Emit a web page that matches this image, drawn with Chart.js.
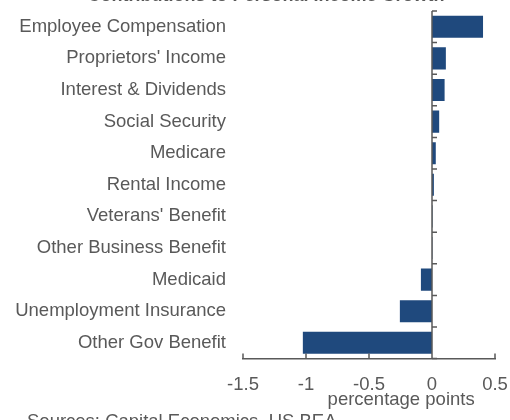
<!DOCTYPE html>
<html>
<head>
<meta charset="utf-8">
<script src="https://cdn.jsdelivr.net/npm/chart.js@4"></script>
<style>
  html, body { margin: 0; padding: 0; background: #fff; }
  #wrap { position: relative; width: 510px; height: 420px; }
</style>
</head>
<body>
<div id="wrap"><canvas id="income-chart" width="510" height="420"></canvas></div>
<script>
// Contributions by income component, percentage points
const categories = [
    'Employee Compensation',
    "Proprietors' Income",
    'Interest & Dividends',
    'Social Security',
    'Medicare',
    'Rental Income',
    "Veterans' Benefit",
    'Other Business Benefit',
    'Medicaid',
    'Unemployment Insurance',
    'Other Gov Benefit'
];
const contributions = [0.405, 0.11, 0.10, 0.057, 0.03, 0.015, 0.004, 0.003, -0.088, -0.255, -1.025];
const xTickValues = [-1.5, -1, -0.5, 0, 0.5];
const xTickLabels = ['-1.5', '-1', '-0.5', '0', '0.5'];

const titleText = 'Contributions to Personal Income Growth';
const sourceText = 'Sources: Capital Economics, US BEA';
const axisTitle = 'percentage points';

const GREY = '#595959';
const FONT = '"Liberation Sans", Arial, sans-serif';
const FONT_SIZE = 18.5;

// axis lines and inward tick marks, plus the surrounding text
const axisDecor = {
    id: 'axisDecor',
    afterDraw(chart) {
        const { ctx, scales: { x, y } } = chart;
        const zeroX = x.getPixelForValue(0);
        ctx.save();
        ctx.strokeStyle = GREY;
        ctx.lineWidth = 1.5;

        // vertical axis at zero with ticks between categories
        ctx.beginPath();
        ctx.moveTo(zeroX, y.top);
        ctx.lineTo(zeroX, y.bottom);
        for (let i = 0; i <= categories.length; i++) {
            const py = y.getPixelForValue(i - 0.5);
            ctx.moveTo(zeroX, py);
            ctx.lineTo(zeroX + 5, py);
        }
        // upward ticks on the bottom axis
        xTickValues.forEach(v => {
            const px = x.getPixelForValue(v);
            ctx.moveTo(px, x.top);
            ctx.lineTo(px, x.top - 5);
        });
        ctx.stroke();

        ctx.fillStyle = GREY;
        ctx.font = FONT_SIZE + 'px ' + FONT;
        ctx.textAlign = 'center';
        ctx.textBaseline = 'alphabetic';
        ctx.fillText(axisTitle, x.getPixelForValue(-0.245), 405);

        ctx.textAlign = 'left';
        ctx.fillText(sourceText, 27, 427);

        // title sits mostly above the top edge
        ctx.font = 'bold 18px ' + FONT;
        ctx.textAlign = 'center';
        ctx.fillText(titleText, 266, 0.5);
        ctx.restore();
    }
};

new Chart(document.getElementById('income-chart'), {
    type: 'bar',
    data: {
        labels: categories,
        datasets: [{
            data: contributions,
            backgroundColor: '#1F497D',
            borderWidth: 0,
            barPercentage: 0.7,
            categoryPercentage: 1
        }]
    },
    options: {
        indexAxis: 'y',
        responsive: false,
        animation: false,
        layout: { padding: { top: 11, right: 15, left: 0, bottom: 0 } },
        plugins: {
            legend: { display: false },
            tooltip: { enabled: false },
            title: { display: false }
        },
        scales: {
            x: {
                min: -1.5,
                max: 0.5,
                afterFit: scale => {
                    scale.height = 61.4;
                    scale.paddingLeft = 0;
                    scale.paddingRight = 0;
                },
                afterBuildTicks: scale => {
                    scale.ticks = xTickValues.map(v => ({ value: v }));
                },
                grid: { display: false, drawTicks: false },
                border: { display: true, color: GREY, width: 1.5 },
                ticks: {
                    padding: 15,
                    color: GREY,
                    font: { family: FONT, size: FONT_SIZE },
                    callback: (value) => xTickLabels[xTickValues.indexOf(value)]
                }
            },
            y: {
                afterFit: scale => {
                    scale.width = 243;
                    scale.paddingTop = 0;
                    scale.paddingBottom = 0;
                },
                grid: { display: false, drawTicks: false },
                border: { display: false },
                ticks: {
                    padding: 17,
                    color: GREY,
                    font: { family: FONT, size: FONT_SIZE }
                }
            }
        }
    },
    plugins: [axisDecor]
});
</script>
</body>
</html>
